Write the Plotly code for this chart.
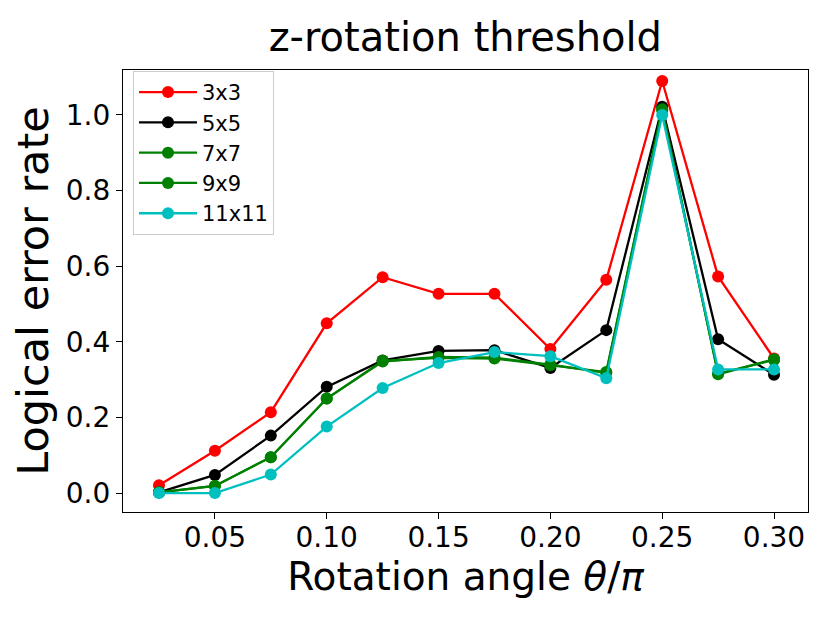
import plotly.graph_objects as go

# rotation angle theta/pi
angles = [0.025, 0.05, 0.075, 0.10, 0.125, 0.15, 0.175, 0.20, 0.225, 0.25, 0.275, 0.30]

err_3x3 = [0.021, 0.112, 0.214, 0.449, 0.571, 0.527, 0.527, 0.381, 0.564, 1.090, 0.573, 0.356]
err_5x5 = [0.002, 0.048, 0.152, 0.281, 0.351, 0.376, 0.378, 0.331, 0.431, 1.022, 0.407, 0.313]
err_7x7 = [0.002, 0.019, 0.095, 0.250, 0.350, 0.358, 0.356, 0.338, 0.320, 1.015, 0.314, 0.354]
err_9x9 = [0.002, 0.019, 0.095, 0.250, 0.348, 0.360, 0.358, 0.340, 0.318, 1.013, 0.316, 0.352]
err_11x11 = [0.000, 0.000, 0.049, 0.176, 0.278, 0.344, 0.373, 0.362, 0.304, 1.000, 0.327, 0.327]

labels = ['3x3', '5x5', '7x7', '9x9', '11x11']
colors = ['#ff0000', '#000000', '#008000', '#008000', '#00bfbf']
series = [err_3x3, err_5x5, err_7x7, err_9x9, err_11x11]

FONT = 'DejaVu Sans'

fig = go.Figure()
for name, col, ys in zip(labels, colors, series):
    fig.add_trace(go.Scatter(x=angles, y=ys, name=name, mode='lines+markers',
                             line=dict(color=col, width=2.3),
                             marker=dict(color=col, size=12)))

axis_common = dict(showline=True, linecolor='black', linewidth=1.3, mirror=True,
                   ticks='outside', ticklen=6, tickcolor='black', showgrid=False,
                   zeroline=False, tickfont=dict(family=FONT, size=28, color='black'))

fig.update_xaxes(range=[0.0089, 0.3152], tickvals=[0.05, 0.10, 0.15, 0.20, 0.25, 0.30],
                 ticktext=['0.05', '0.10', '0.15', '0.20', '0.25', '0.30'],
                 ticklabelstandoff=-6,
                 title=dict(text='Rotation angle <i>θ</i>/<i>π</i>', standoff=8,
                            font=dict(family=FONT, size=39, color='black')),
                 **axis_common)
fig.update_yaxes(range=[-0.05, 1.119], tickvals=[0.0, 0.2, 0.4, 0.6, 0.8, 1.0],
                 ticktext=['0.0', '0.2', '0.4', '0.6', '0.8', '1.0'],
                 title=dict(text='Logical error rate', standoff=4,
                            font=dict(family=FONT, size=43, color='black')),
                 **axis_common)

# the page is drawn with an ~8px body offset, margins compensate for it
fig.update_layout(
    width=830, height=623,
    margin=dict(l=115, r=30, t=62, b=119),
    plot_bgcolor='white', paper_bgcolor='white',
    title=dict(text='z-rotation threshold', x=0.551, xanchor='center', y=0.953, yanchor='middle',
               font=dict(family=FONT, size=40, color='black')),
    legend=dict(x=0.0146, y=0.998, xanchor='left', yanchor='top', itemwidth=58,
                bgcolor='white', bordercolor='#cccccc', borderwidth=1,
                font=dict(family=FONT, size=21, color='black')),
)

fig.write_html("out.html")
